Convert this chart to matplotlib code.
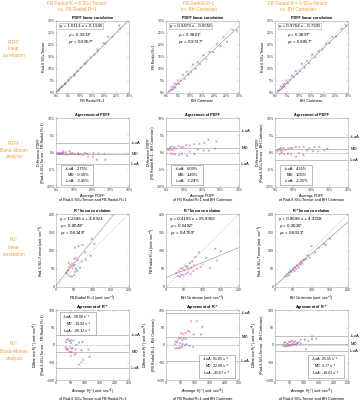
import numpy as np
import matplotlib.pyplot as plt
from matplotlib.patches import Rectangle
from matplotlib.ticker import FuncFormatter
import matplotlib.transforms as mtransforms

plt.rcParams['font.family'] = ['Liberation Sans', 'DejaVu Sans']
plt.rcParams['mathtext.fontset'] = 'custom'
plt.rcParams['mathtext.rm'] = 'Liberation Sans'
plt.rcParams['mathtext.it'] = 'Liberation Sans:italic'

# group of each subject (0 = red, 1 = blue)
group = [1, 0, 0, 1, 0, 1, 1, 0, 0, 1, 0, 1, 0, 0, 1,
         0, 1, 1, 0, 0, 1, 0, 1, 0, 0, 1, 0, 1, 0, 1]

# PDFF (%) per method
pdff_bh = [1.4, 2.0, 2.3, 2.9, 3.2, 3.5, 3.9, 4.3, 4.8, 5.3, 6.1, 6.9, 7.8, 8.5, 9.2,
           10.3, 11.0, 12.2, 13.1, 14.0, 15.3, 16.6, 18.0, 19.5, 21.0, 22.4, 23.7, 25.1, 27.4, 29.2]
pdff_fb = [0.6, 1.2, 2.6, 1.5, 2.4, 3.9, 2.2, 3.6, 5.3, 3.8, 5.0, 7.6, 5.9, 8.9, 7.6,
           8.7, 11.9, 10.1, 12.8, 12.0, 15.8, 14.2, 17.1, 17.0, 20.4, 19.6, 23.2, 21.4, 26.3, 26.0]
pdff_rad6 = [0.9, 1.3, 2.8, 1.9, 2.7, 3.6, 2.6, 3.8, 5.2, 4.1, 5.4, 7.2, 6.6, 9.1, 7.9,
             9.0, 12.2, 10.6, 13.3, 12.4, 16.0, 14.9, 17.4, 18.2, 20.6, 20.8, 23.4, 23.5, 26.8, 28.1]

# R2* (sec^-1) per method
r2_bh = [28, 32, 35, 38, 40, 42, 45, 48, 50, 53, 55, 58, 60, 62, 65,
         68, 70, 72, 75, 78, 80, 85, 90, 95, 100, 110, 120, 135, 140, 150]
r2_fb = [38, 30, 44, 28, 50, 34, 52, 33, 45, 58, 36, 55, 40, 48, 66,
         35, 52, 70, 44, 60, 82, 50, 95, 55, 62, 80, 52, 105, 72, 98]
r2_rad6 = [30, 36, 29, 40, 33, 45, 41, 47, 52, 44, 55, 49, 60, 58, 53,
           66, 61, 70, 64, 73, 75, 77, 86, 80, 112, 95, 108, 118, 115, 132]

col_titles = ["FB Radial R = 6 SG+Tensor\nvs. FB Radial R=1",
              "FB Radial R=1\nvs. BH Cartesian",
              "FB Radial R = 6 SG+Tensor\nvs. BH Cartesian"]
row_titles = ["PDFF\nlinear\ncorrelation", "PDFF\nBland-Altman\nanalysis",
              "R$_2$*\nlinear\ncorrelation", "R$_2$*\nBland-Altman\nanalysis"]
y_names = ["Rad-6 SG+Tensor", "FB Radial R=1", "Rad-6 SG+Tensor"]
x_names = ["FB Radial R=1", "BH Cartesian", "BH Cartesian"]

pdff_slope = [1.0113, 0.9479, 0.9764]
pdff_icpt = [0.1945, -0.6550, -0.7205]
pdff_rho = [0.9913, 0.9801, 0.9897]
pdff_rhoc = [0.9907, 0.9727, 0.9857]
r2_slope = [1.2246, 0.4105, 0.8698]
r2_icpt = [4.6921, 25.8302, 4.3358]
r2_rho = [0.8049, 0.5482, 0.9026]
r2_rhoc = [0.6349, 0.4709, 0.8913]

pdff_loa_hi = [2.75, 6.09, 4.35]
pdff_md = [-0.35, 1.40, 1.05]
pdff_loa_lo = [-3.45, -3.29, -2.25]
r2_loa_hi = [28.08, 91.65, 25.55]
r2_md = [-19.02, 22.99, 3.77]
r2_loa_lo = [-66.12, -45.67, -18.01]

pdff = {"bh": pdff_bh, "fb": pdff_fb, "rad6": pdff_rad6}
r2 = {"bh": r2_bh, "fb": r2_fb, "rad6": r2_rad6}
pairs = [("rad6", "fb"), ("fb", "bh"), ("rad6", "bh")]  # (y method, x method)

W, H = 361, 400
fig = plt.figure(figsize=(W / 100, H / 100), dpi=100)

ORANGE = '#F49E32'
GRAY = '#a8a8a8'
RED = '#e4506e'
BLUE = '#5a5ad6'
FS = 2.7
TS = 3.2  # stats text size

col_left = [56, 166, 275]
col_w = 73
rows = [(21, 93), (118, 187), (214, 287), (310, 380)]


def make_ax(r, c):
    top, bot = rows[r]
    ax = fig.add_axes([col_left[c] / W, 1 - bot / H, col_w / W, (bot - top) / H])
    for s in ax.spines.values():
        s.set_color(GRAY)
        s.set_linewidth(0.4)
    ax.tick_params(direction='in', length=1.2, width=0.3, color=GRAY,
                   labelsize=2.5, pad=1, labelcolor='#333333', top=True, right=True)
    return ax


def scatter(ax, x, y):
    cols = [BLUE if g else RED for g in group]
    ax.scatter(x, y, s=2, marker='x', c=cols, linewidths=0.35, alpha=0.7, zorder=3)


def stat_box(ax, bx, by, bw, bh_, labs, texts, split, fs):
    ax.add_patch(Rectangle((bx, by), bw, bh_, transform=ax.transAxes, fc='white',
                           ec='#888888', lw=0.4, zorder=4))
    for i, (l, t) in enumerate(zip(labs, texts)):
        yy = by + bh_ * (0.8 - 0.3 * i)
        ax.text(bx + bw * split, yy, l + ":", transform=ax.transAxes, fontsize=fs,
                ha='right', va='center', zorder=5)
        ax.text(bx + bw * (split + 0.04), yy, t, transform=ax.transAxes,
                fontsize=fs, ha='left', va='center', zorder=5)


pct = FuncFormatter(lambda v, p: f"{v:g}%")
r2u = " (unit: sec$^{-1}$)"
labs = ["+LoA", "MD", "-LoA"]

for c in range(3):
    ym, xm = pairs[c]

    # row 1: PDFF linear correlation
    ax = make_ax(0, c)
    x = np.array(pdff[xm]); y = np.array(pdff[ym])
    scatter(ax, x, y)
    lx = np.array([0, 30])
    ax.plot(lx, lx, color='#c8c8c8', lw=0.4, ls='--', zorder=1)
    ax.plot(lx, pdff_slope[c] * lx + pdff_icpt[c], color='#999999', lw=0.45, zorder=2)
    ax.set_xlim(0, 30); ax.set_ylim(0, 30)
    ax.set_xticks(range(0, 31, 5)); ax.set_yticks(range(0, 31, 5))
    ax.xaxis.set_major_formatter(pct); ax.yaxis.set_major_formatter(pct)
    sign = '+' if pdff_icpt[c] >= 0 else '-'
    ax.text(0.05, 0.935, f"y = {pdff_slope[c]:.4f} x {sign} {abs(pdff_icpt[c]):.4f}",
            transform=ax.transAxes, fontsize=TS, va='center', ha='left',
            bbox=dict(boxstyle='square,pad=0.25', fc='white', ec=GRAY, lw=0.4))
    ax.text(0.17, 0.80, f"$\\rho$ = {pdff_rho[c]:.4f}*", transform=ax.transAxes,
            fontsize=TS, va='center')
    ax.text(0.17, 0.71, f"$\\rho_c$ = {pdff_rhoc[c]:.4f}*", transform=ax.transAxes,
            fontsize=TS, va='center')
    ax.set_title("PDFF linear correlation", fontsize=FS, fontweight='bold', pad=1.5)
    ax.set_xlabel(x_names[c], fontsize=FS, labelpad=0.8)
    ax.set_ylabel(y_names[c], fontsize=FS, labelpad=0.8)

    # row 2: PDFF Bland-Altman
    ax = make_ax(1, c)
    avg = (x + y) / 2
    diff = x - y
    scatter(ax, avg, diff)
    ax.set_xlim(0, 40); ax.set_ylim(-10, 10)
    ax.set_xticks(range(0, 41, 10)); ax.set_yticks(range(-10, 11, 5))
    ax.xaxis.set_major_formatter(pct); ax.yaxis.set_major_formatter(pct)
    ax.axhline(0, color=GRAY, lw=0.4, ls='--', zorder=1)
    vals = [pdff_loa_hi[c], pdff_md[c], pdff_loa_lo[c]]
    tr = mtransforms.blended_transform_factory(ax.transAxes, ax.transData)
    for v, l in zip(vals, labs):
        ax.axhline(v, color=GRAY, lw=0.5, zorder=1)
        ax.text(1.03, v, l, transform=tr, fontsize=3, va='center', ha='left')
    stat_box(ax, 0.07, 0.03, 0.44, 0.29, labs, [f"{v:.2f}%" for v in vals], 0.45, 2.9)
    ax.set_title("Agreement of PDFF", fontsize=FS, fontweight='bold', pad=1.5)
    ax.set_xlabel(f"Average PDFF\nof {y_names[c]} and {x_names[c]}", fontsize=FS,
                  labelpad=0.8, linespacing=1.1)
    ax.set_ylabel(f"Difference PDFF\n({y_names[c]} - {x_names[c]})", fontsize=FS,
                  labelpad=0.8, linespacing=1.1)

    # row 3: R2* linear correlation
    ax = make_ax(2, c)
    x = np.array(r2[xm], float); y = np.array(r2[ym], float)
    scatter(ax, x, y)
    lx = np.array([0, 200])
    ax.plot(lx, lx, color='#c8c8c8', lw=0.4, ls='--', zorder=1)
    ax.plot(lx, r2_slope[c] * lx + r2_icpt[c], color='#999999', lw=0.45, zorder=2)
    ax.set_xlim(0, 200); ax.set_ylim(0, 200)
    ax.set_xticks(range(0, 201, 50)); ax.set_yticks(range(0, 201, 50))
    ax.text(0.05, 0.925, f"y = {r2_slope[c]:.4f} x + {r2_icpt[c]:.4f}",
            transform=ax.transAxes, fontsize=TS, va='center')
    ax.text(0.05, 0.835, f"$\\rho$ = {r2_rho[c]:.4f}*", transform=ax.transAxes,
            fontsize=TS, va='center')
    ax.text(0.05, 0.745, f"$\\rho_c$ = {r2_rhoc[c]:.4f}*", transform=ax.transAxes,
            fontsize=TS, va='center')
    ax.set_title("R$_2$* linear correlation", fontsize=FS, fontweight='bold', pad=1.5)
    ax.set_xlabel(x_names[c] + r2u, fontsize=FS, labelpad=0.8)
    ax.set_ylabel(y_names[c] + r2u, fontsize=FS, labelpad=0.8)

    # row 4: R2* Bland-Altman
    ax = make_ax(3, c)
    avg = (x + y) / 2
    diff = x - y
    scatter(ax, avg, diff)
    ax.set_xlim(0, 250); ax.set_ylim(-100, 100)
    ax.set_xticks(range(0, 251, 50)); ax.set_yticks(range(-100, 101, 50))
    ax.axhline(0, color=GRAY, lw=0.4, ls='--', zorder=1)
    vals = [r2_loa_hi[c], r2_md[c], r2_loa_lo[c]]
    tr = mtransforms.blended_transform_factory(ax.transAxes, ax.transData)
    for v, l in zip(vals, labs):
        ax.axhline(v, color=GRAY, lw=0.5, zorder=1)
        ax.text(1.03, v, l, transform=tr, fontsize=3, va='center', ha='left')
    if c == 0:
        bx, by = 0.05, 0.64
    else:
        bx, by = 0.45, 0.03
    stat_box(ax, bx, by, 0.5, 0.33, labs, [f"{v:.2f} s\u207b\u00b9" for v in vals], 0.36, 2.6)
    ax.set_title("Agreement of R$_2$*", fontsize=FS, fontweight='bold', pad=1.5)
    ax.set_xlabel(f"Average R$_2$*{r2u}\nof {y_names[c]} and {x_names[c]}",
                  fontsize=FS, labelpad=0.8, linespacing=1.1)
    ax.set_ylabel(f"Difference R$_2$*{r2u}\n({y_names[c]} - {x_names[c]})",
                  fontsize=FS, labelpad=0.8, linespacing=1.1)

# column headers and row labels
col_cx = [77, 199, 298]
for c in range(3):
    fig.text(col_cx[c] / W, 1 - 6.5 / H, col_titles[c], color=ORANGE, fontsize=3.4,
             ha='center', va='center', linespacing=1.2)
row_cy = [49, 150, 246, 350]
for r in range(4):
    fig.text(14 / W, 1 - row_cy[r] / H, row_titles[r], color=ORANGE, fontsize=3.4,
             ha='center', va='center', linespacing=1.3)

fig.savefig("out.png", dpi=100)
